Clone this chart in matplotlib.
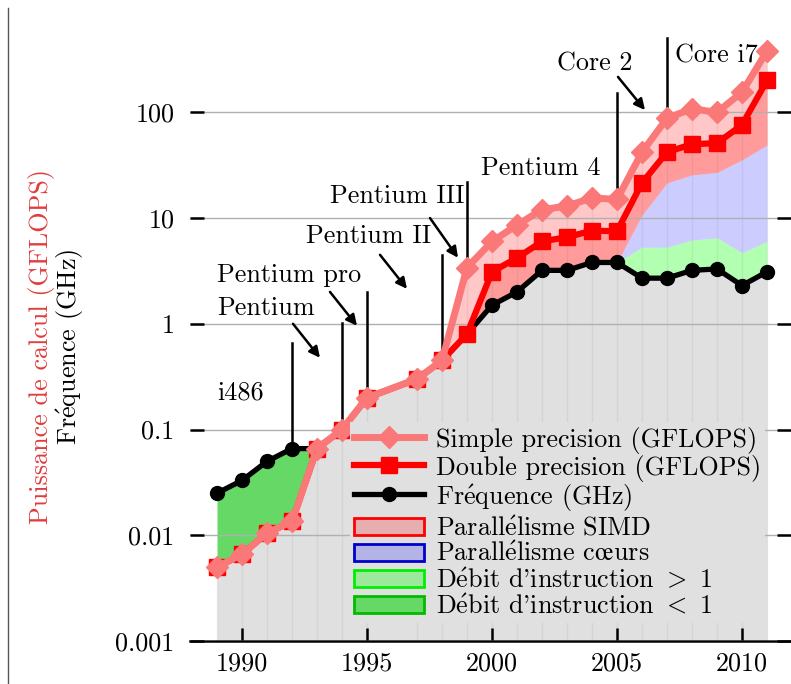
import numpy as np
import matplotlib
matplotlib.use('Agg')
import matplotlib.pyplot as plt
from matplotlib.lines import Line2D
from matplotlib.patches import Patch, Rectangle
from matplotlib.legend_handler import HandlerPatch
from matplotlib.ticker import NullLocator

plt.rcParams['font.family'] = ['cmr10', 'DejaVu Serif']
plt.rcParams['mathtext.fontset'] = 'cm'
plt.rcParams['axes.formatter.use_mathtext'] = True

E = r'$\mathrm{\acute{e}}$'   # e accent aigu en Computer Modern
OE = r'$\mathrm{\oe}$'

# valeurs (pas de point en 1996)
annees = [1989, 1990, 1991, 1992, 1993, 1994, 1995, 1997, 1998, 1999, 2000,
          2001, 2002, 2003, 2004, 2005, 2006, 2007, 2008, 2009, 2010, 2011]
simple = [0.005, 0.0066, 0.0105, 0.0135, 0.066, 0.1, 0.2, 0.3, 0.45, 3.4, 6.0,
          8.6, 12.0, 13.0, 15.5, 15.0, 42, 88, 108, 100, 155, 380]
double = [0.005, 0.0066, 0.0105, 0.0135, 0.066, 0.1, 0.2, 0.3, 0.45, 0.8, 3.1,
          4.2, 6.0, 6.6, 7.6, 7.5, 21.5, 42, 50, 51, 76, 200]
freq = [0.025, 0.033, 0.05, 0.066, 0.066, 0.1, 0.2, 0.3, 0.45, 0.8, 1.5,
        2.0, 3.2, 3.2, 3.8, 3.8, 2.7, 2.7, 3.2, 3.3, 2.3, 3.1]

# multi-coeurs
annees_mc = [2005, 2006, 2007, 2008, 2009, 2010, 2011]
debit_sup = [3.8, 5.3, 5.3, 6.2, 6.5, 4.7, 6.0]
coeurs = [3.8, 10.7, 21.5, 25.6, 27, 35.5, 49]

# processeurs
noms = ['i486', 'Pentium', 'Pentium pro', 'Pentium II', 'Pentium III',
        'Pentium 4', 'Core 2', 'Core i7']
noms_x = [1989.0, 1989.0, 1989.0, 1992.56, 1993.52, 1999.56, 2002.6, 2007.32]
noms_y = [0.191, 1.216, 2.49, 5.83, 13.9, 25.6, 251, 293]

reperes_x = [1992, 1994, 1995, 1998, 1999, 2005, 2007]
reperes_haut = [0.66, 1.02, 2.0, 4.5, 22, 152, 505]

# fleches : (x depart, y depart, x arrivee, y arrivee)
fleches = [(1992.04, 1.0, 1993.12, 0.477),
           (1993.52, 2.0, 1994.6, 0.957),
           (1995.52, 4.49, 1996.6, 2.14),
           (1997.52, 10.0, 1998.64, 4.21),
           (2005.04, 216, 2006.12, 105)]

yticks = [0.001, 0.01, 0.1, 1, 10, 100]
ylabels = ['0.001', '0.01', '0.1', '1', '10', '100']
xticks = [1990, 1995, 2000, 2005, 2010]

legende = ['Simple precision (GFLOPS)', 'Double precision (GFLOPS)',
           'Fr' + E + 'quence (GHz)', 'Parall' + E + 'lisme SIMD',
           'Parall' + E + 'lisme c' + OE + 'urs',
           'D' + E + "bit d'instruction $>$ 1", 'D' + E + "bit d'instruction $<$ 1"]

sp = np.array(simple)
dp = np.array(double)
fr = np.array(freq)
n_mc = len(annees_mc)

fig = plt.figure(figsize=(7.91, 6.84), dpi=100)
ax = fig.add_axes([190/791, 43/684, 601/791, 641/684])
ax.set_yscale('log')

# zones
bas = np.minimum(fr, sp)
ax.fill_between(annees, 0.001, bas, color='#e0e0e0', lw=0, zorder=1)
ax.fill_between(annees, bas, fr, color='#66d866', lw=0, zorder=1)
ax.fill_between(annees_mc, fr[-n_mc:], debit_sup, color=(0, 1, 0, 0.3), lw=0, zorder=1)
ax.fill_between(annees_mc, debit_sup, coeurs, color=(0, 0, 1, 0.2), lw=0, zorder=1)
simd_bas = fr.copy()
simd_bas[-n_mc:] = coeurs
ax.fill_between(annees, simd_bas, np.maximum(sp, simd_bas), color=(1, 0, 0, 0.22),
                lw=0, zorder=1)
ax.fill_between(annees, simd_bas, np.maximum(dp, simd_bas), color=(1, 0, 0, 0.22),
                lw=0, zorder=1)
ax.vlines(annees, 0.001, sp, color='k', alpha=0.05, lw=1, zorder=1.5)

# courbes
ax.plot(annees, fr, 'o-', color='k', lw=3.8, ms=10, zorder=4)
ax.plot(annees, dp, 's-', color='#ff0000', lw=4.5, ms=11.5, zorder=5)
ax.plot(annees, sp, 'D-', color='#fa7878', lw=5, ms=11, zorder=6)

# reperes
for x, h in zip(reperes_x, reperes_haut):
    i = annees.index(x)
    ax.plot([x, x], [max(sp[i], fr[i]), h], color='k', lw=1.8, zorder=3)
for nom, x, y in zip(noms, noms_x, noms_y):
    ax.text(x, y, nom, fontsize=18.8, ha='left', va='baseline', zorder=7)
for x0, y0, x1, y1 in fleches:
    ax.annotate('', xy=(x1, y1), xytext=(x0, y0),
                arrowprops=dict(arrowstyle='-|>', color='k', lw=1.8,
                                mutation_scale=16, shrinkA=0, shrinkB=0),
                zorder=7)

ax.set_xlim(1987.92, 2011.96)
ax.set_ylim(0.001, 10**3.062)
ax.set_yticks(yticks)
ax.set_yticklabels(ylabels)
ax.yaxis.set_minor_locator(NullLocator())
ax.set_xticks(xticks)
ax.set_xticklabels([str(t) for t in xticks])
ax.grid(axis='y', color='#b0b0b0', lw=1)
ax.set_axisbelow(False)
ax.tick_params(axis='y', which='both', left=True, right=True, direction='in',
               length=10, width=1.8, pad=11, labelsize=18.8)
ax.tick_params(axis='x', direction='in', length=9.5, width=1.8, pad=8,
               labelsize=18.8)
for s in ['left', 'right', 'top']:
    ax.spines[s].set_visible(False)
ax.spines['bottom'].set_linewidth(1.8)


def petit_rect(legend, orig_handle, xdescent, ydescent, width, height, fontsize):
    h = 0.65 * fontsize
    return Rectangle((-xdescent, -ydescent + (height - h) / 2), width, h)


handles = [Line2D([], [], color='#fa7878', lw=5, marker='D', ms=11),
           Line2D([], [], color='#ff0000', lw=4.5, marker='s', ms=11.5),
           Line2D([], [], color='k', lw=3.8, marker='o', ms=10),
           Patch(facecolor=(1, 0, 0, 0.22), edgecolor='#ff0000', lw=2),
           Patch(facecolor=(0, 0, 1, 0.2), edgecolor='#0000cc', lw=2),
           Patch(facecolor=(0, 1, 0, 0.3), edgecolor='#00ee00', lw=2),
           Patch(facecolor='#66d866', edgecolor='#00bb00', lw=2)]
leg = ax.legend(handles, legende, loc='upper left',
                bbox_to_anchor=(350/791, 1 - 422/684), bbox_transform=fig.transFigure,
                fontsize=18.8, handlelength=2.7, handleheight=1.08, handletextpad=0.45,
                labelspacing=0.0, borderpad=0.15, borderaxespad=0,
                fancybox=False, facecolor='#e0e0e0', edgecolor='none',
                framealpha=1, numpoints=1,
                handler_map={Patch: HandlerPatch(patch_func=petit_rect)})
leg.set_zorder(10)

fig.text(42/791, 1 - 346/684, 'Puissance de calcul (GFLOPS)', color='#e03c3c',
         rotation=90, ha='center', va='center', fontsize=18.8)
fig.text(70/791, 1 - 347/684, 'Fr' + E + 'quence (GHz)', color='k',
         rotation=90, ha='center', va='center', fontsize=18.8)
fig.add_artist(Line2D([8/791, 8/791], [0, 1 - 8/684], color='#555555', lw=1))

fig.savefig('out.png', dpi=100)
